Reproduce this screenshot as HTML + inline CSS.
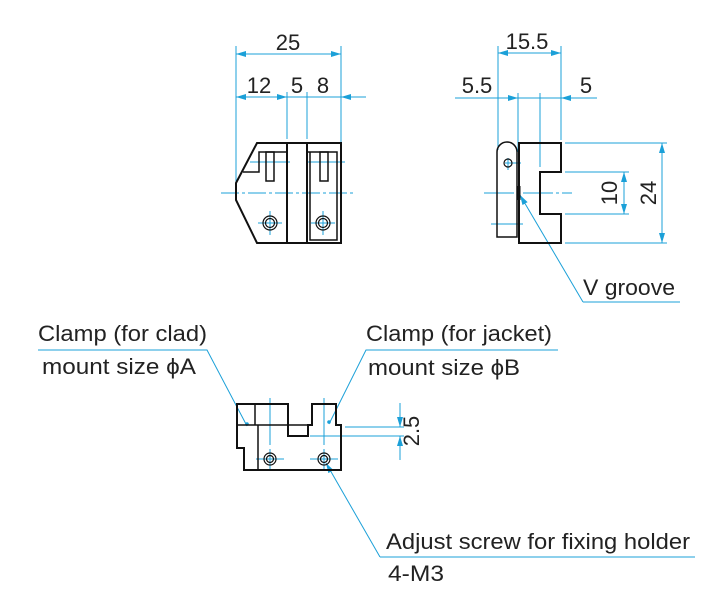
<!DOCTYPE html>
<html><head><meta charset="utf-8"><style>
html,body{margin:0;padding:0;background:#fff;}
svg{display:block;}
text{font-family:"Liberation Sans",Arial,sans-serif;fill:#222;}
</style></head><body>
<svg width="709" height="596" viewBox="0 0 709 596" xmlns="http://www.w3.org/2000/svg">
<defs>
<marker id="a" viewBox="0 0 10 6" refX="10" refY="3" markerWidth="10" markerHeight="6" orient="auto-start-reverse" markerUnits="userSpaceOnUse"><path d="M0,0 L10,3 L0,6 z" fill="#1ba0d8"/></marker>
</defs>
<g stroke="#1ba0d8" stroke-width="1" fill="none">
<line x1="236" y1="46" x2="236" y2="190"/><line x1="341" y1="46" x2="341" y2="143"/>
<line x1="236" y1="54" x2="341" y2="54" marker-start="url(#a)" marker-end="url(#a)"/>
<line x1="287" y1="92" x2="287" y2="139"/><line x1="307" y1="92" x2="307" y2="139"/>
<line x1="236" y1="97" x2="287" y2="97" marker-start="url(#a)" marker-end="url(#a)"/>
<line x1="287" y1="97" x2="341" y2="97"/>
<line x1="366" y1="97" x2="341" y2="97" marker-end="url(#a)"/>
<line x1="221" y1="193" x2="355" y2="193" stroke-dasharray="18,3,3,3"/>
<line x1="250" y1="162" x2="290" y2="162"/><line x1="306" y1="162" x2="345" y2="162"/>
<line x1="270" y1="211" x2="270" y2="235"/><line x1="258" y1="223" x2="282" y2="223"/>
<line x1="323" y1="211" x2="323" y2="235"/><line x1="311" y1="223" x2="335" y2="223"/>
<line x1="498" y1="46" x2="498" y2="150"/><line x1="561" y1="46" x2="561" y2="140"/>
<line x1="498" y1="53" x2="561" y2="53" marker-start="url(#a)" marker-end="url(#a)"/>
<line x1="518" y1="93" x2="518" y2="152"/><line x1="540" y1="93" x2="540" y2="167"/>
<line x1="455" y1="98" x2="518" y2="98" marker-end="url(#a)"/>
<line x1="518" y1="98" x2="561" y2="98"/>
<line x1="597" y1="98" x2="561" y2="98" marker-end="url(#a)"/>
<line x1="484" y1="193" x2="572" y2="193" stroke-dasharray="30,3,3,3"/>
<line x1="491" y1="224" x2="523" y2="224"/>
<line x1="505" y1="163" x2="521" y2="163"/><line x1="508" y1="158" x2="508" y2="170"/>
<line x1="565" y1="143" x2="667" y2="143"/><line x1="565" y1="243" x2="667" y2="243"/>
<line x1="565" y1="172" x2="629" y2="172"/><line x1="565" y1="214" x2="629" y2="214"/>
<line x1="624" y1="172" x2="624" y2="214" marker-start="url(#a)" marker-end="url(#a)"/>
<line x1="662" y1="143" x2="662" y2="243" marker-start="url(#a)" marker-end="url(#a)"/>
<line x1="680" y1="302" x2="583" y2="302"/>
<line x1="583" y1="302" x2="520" y2="195" marker-end="url(#a)"/>
<polyline points="38,350 207,350 247,426"/>
<polyline points="558,350 366,350 329,424"/>
<circle cx="247" cy="424" r="1.3" fill="#1ba0d8"/><circle cx="329" cy="422" r="1.3" fill="#1ba0d8"/>
<line x1="270" y1="398" x2="270" y2="445"/><line x1="324" y1="398" x2="324" y2="445"/>
<line x1="256" y1="459" x2="284" y2="459"/><line x1="270" y1="449" x2="270" y2="470"/>
<line x1="310" y1="459" x2="338" y2="459"/><line x1="324" y1="449" x2="324" y2="470"/>
<line x1="345" y1="427" x2="404" y2="427"/><line x1="310" y1="436" x2="404" y2="436"/>
<line x1="400" y1="403" x2="400" y2="427" marker-end="url(#a)"/>
<line x1="400" y1="460" x2="400" y2="436" marker-end="url(#a)"/>
<line x1="695" y1="557" x2="380" y2="557"/>
<line x1="380" y1="557" x2="326" y2="463" marker-end="url(#a)"/>
</g>
<g stroke="#111" stroke-width="2" fill="none">
<polygon points="257,143 341,143 341,243 257,243 236,200 236,183"/>
<line x1="287" y1="143" x2="287" y2="243"/><line x1="307" y1="143" x2="307" y2="243"/>
<polyline points="243,172 259,172 259,152 287,152" stroke-width="1.5"/>
<polyline points="307,152 337,152 337,240 310,240 310,152" stroke-width="1.5"/>
<rect x="266" y="152" width="8" height="29" stroke-width="1.5"/>
<rect x="320" y="152" width="8" height="29" stroke-width="1.5"/>
<polygon points="519,143 561,143 561,172 540,172 540,214 561,214 561,243 519,243"/>
<path d="M497,237 L497,152 A10,10 0 0 1 517,152 L517,237 Z" stroke-width="1.5"/>
<line x1="519" y1="186" x2="519" y2="200" stroke-width="3"/>
<polygon points="237,404 288,404 288,436 308,436 308,425 312,425 312,404 336,404 336,425 341,425 341,470 244,470 244,448 237,448"/>
<line x1="237" y1="425" x2="312" y2="425" stroke-width="1.5"/>
<line x1="255" y1="404" x2="255" y2="425" stroke-width="1.5"/>
<line x1="258" y1="425" x2="258" y2="470" stroke-width="1.5"/>
</g>
<g stroke="#111" stroke-width="1.2" fill="none">
<circle cx="270" cy="223" r="7"/><circle cx="270" cy="223" r="4.5"/>
<circle cx="323" cy="223" r="7"/><circle cx="323" cy="223" r="4.5"/>
<circle cx="508" cy="163" r="4"/>
<circle cx="270" cy="459" r="6"/><circle cx="270" cy="459" r="3.5"/>
<circle cx="324" cy="459" r="6"/><circle cx="324" cy="459" r="3.5"/>
</g>
<g font-size="22">
<text x="288" y="50" text-anchor="middle">25</text>
<text x="259" y="93" text-anchor="middle">12</text>
<text x="297" y="93" text-anchor="middle">5</text>
<text x="323" y="93" text-anchor="middle">8</text>
<text x="527" y="49" text-anchor="middle">15.5</text>
<text x="477" y="93" text-anchor="middle">5.5</text>
<text x="586" y="93" text-anchor="middle">5</text>
<text transform="translate(617,193) rotate(-90)" text-anchor="middle">10</text>
<text transform="translate(656,193) rotate(-90)" text-anchor="middle">24</text>
<text x="583" y="295" textLength="92" lengthAdjust="spacingAndGlyphs">V groove</text>
<text x="38" y="341" textLength="169" lengthAdjust="spacingAndGlyphs">Clamp (for clad)</text>
<text x="42" y="374" textLength="154" lengthAdjust="spacingAndGlyphs">mount size ϕA</text>
<text x="366" y="341" textLength="186" lengthAdjust="spacingAndGlyphs">Clamp (for jacket)</text>
<text x="368" y="375" textLength="152" lengthAdjust="spacingAndGlyphs">mount size ϕB</text>
<text transform="translate(419,431) rotate(-90)" text-anchor="middle">2.5</text>
<text x="386" y="549" textLength="304" lengthAdjust="spacingAndGlyphs">Adjust screw for fixing holder</text>
<text x="388" y="581" textLength="56" lengthAdjust="spacingAndGlyphs">4-M3</text>
</g>
</svg>
</body></html>
